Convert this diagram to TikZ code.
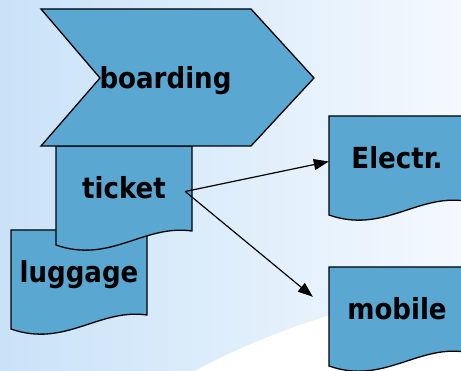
\documentclass[tikz,border=0pt]{standalone}
\usepackage{fontspec}
\setmainfont{DejaVu Sans Condensed}
\usetikzlibrary{arrows.meta}

\definecolor{docblue}{HTML}{5AA8D2}
\definecolor{bgblue}{HTML}{C9E2F8}
\definecolor{bglight}{HTML}{F4F9FE}

% document symbol: top-left corner, name, text
\newcommand{\docbox}[4]{%
  \begin{scope}[shift={(#1,#2)}]
    \filldraw[shapeline] (0,0) -- (136,0) -- (136,85)
      .. controls (88,78) and (54,118) .. (0,99) -- cycle;
    \node[lbl, minimum width=136pt, minimum height=85pt] (#3) at (68,42.5) {#4};
  \end{scope}}

\begin{document}
\begin{tikzpicture}[
    x=1pt, y=-1pt,
    shapeline/.style={draw=black, fill=docblue, line width=1.3pt},
    lbl/.style={font=\bfseries\fontsize{29}{31}\selectfont, text height=21pt, text depth=0pt, inner sep=0pt},
    arrow/.style={-{Triangle[length=15pt, width=11pt]}, line width=1.2pt}
]
\useasboundingbox (0,0) rectangle (461,371);
% background
\shade[left color=bgblue, right color=bglight] (0,0) rectangle (461,371);
\fill[white] (195,371) .. controls (260,335) and (360,300) .. (461,285) -- (461,371) -- cycle;

\docbox{11}{230}{luggage}{luggage}
\docbox{56}{146}{ticket}{ticket}

% step arrow
\filldraw[shapeline] (41,9) -- (251,9) -- (314,78) -- (251,146) -- (41,146) -- (100,78) -- cycle;
\node[lbl, anchor=base] (boarding) at (165.5,89) {boarding};

\docbox{329}{116}{electr}{Electr.}
\docbox{329}{267}{mobile}{mobile}

\draw[arrow] ([xshift=-7pt, yshift=-3pt]ticket.east) -- ([yshift=-3pt]electr.west);
\draw[arrow] ([xshift=-7pt, yshift=-3pt]ticket.east) -- ([xshift=-16pt, yshift=-30pt]mobile.north west);
\end{tikzpicture}
\end{document}
